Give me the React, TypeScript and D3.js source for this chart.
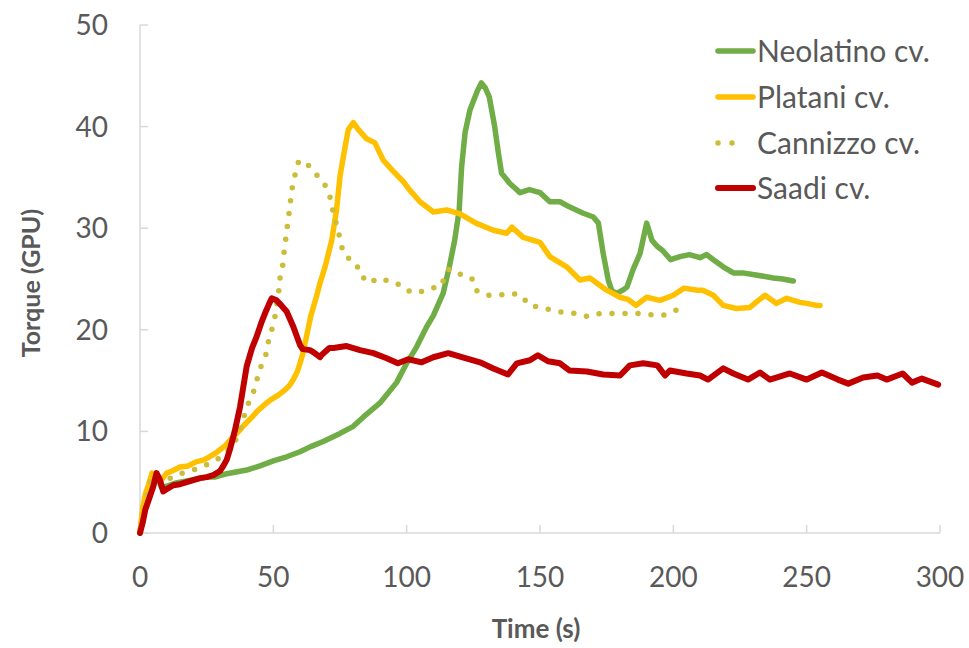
import React from "react";
import * as d3 from "d3";

const xTicks = [0, 50, 100, 150, 200, 250, 300];
const yTicks = [0, 10, 20, 30, 40, 50];

const seriesNames = ["Neolatino cv.", "Platani cv.", "Cannizzo cv.", "Saadi cv."];

const neoT = [0,1,2,4,6,8,10,13,17,21,25,28,32,36,40,45,50,55,60,64,68.7,75,80,83.7,90,96.2,100,103.7,107.5,110,113.7,116,118,119.7,120.6,121.9,123.7,125,126.5,128,129.5,131,133,134.4,135.6,138.7,142.5,146,150,153.7,157.5,161,166,170,171.9,173.7,175.6,177,179,181,182.6,185,187.5,190,192,194,196,199,202.5,206,210,212.5,215,218.7,222.5,226,231,237.5,241,245];
const neoV = [0,2,3,4.8,5.8,4.5,4.6,4.9,5.1,5.3,5.5,5.5,5.8,6.0,6.2,6.6,7.1,7.5,8.0,8.5,9.0,9.8,10.5,11.4,12.8,14.8,16.7,18.3,20.3,21.4,23.6,26.2,28.8,31.8,36,39.4,41.6,42.5,43.5,44.3,43.8,42.9,40,37.4,35.4,34.4,33.5,33.8,33.5,32.6,32.6,32.1,31.5,31.1,30.5,27.5,24.9,23.8,23.6,23.9,24.2,26,27.5,30.5,28.8,28.2,27.8,26.9,27.2,27.4,27.1,27.4,26.9,26.2,25.6,25.6,25.4,25.1,25.0,24.8];

const platT = [0,1,2,3,4.5,6,8,10,12,15,18,21,24,26,28,30,32,34,37,39,42,44,47,49,52,54,56,57.5,59,60,61,62,64,66.2,67.5,69.4,71.9,73.7,75,76.5,78.1,80,81.9,85,88.1,91.2,95,98.7,101,105,110,115,120,126,132.5,137.5,139.5,143.7,150,153.7,160,165,168.7,175,180,183,186,190,195,200,204,209,211,215,218.7,223.7,228.7,231,234.4,238.7,242.5,247.5,250,253.7,255];
const platV = [0,2.5,3.8,4.6,5.9,5.6,5.2,5.9,6.1,6.5,6.6,7.0,7.2,7.5,7.8,8.2,8.6,9.2,10.0,10.6,11.4,12.0,12.7,13.1,13.6,14.0,14.5,15.1,15.9,16.7,17.6,18.8,21.3,23.3,24.6,26.2,28.8,31.8,35.1,37.4,39.7,40.4,39.7,38.8,38.4,36.7,35.6,34.6,33.8,32.6,31.6,31.8,31.4,30.5,29.8,29.5,30.1,29.1,28.6,27.2,26.2,24.9,25.1,23.9,23.2,23.0,22.4,23.2,22.9,23.4,24.1,23.9,23.9,23.4,22.4,22.1,22.2,22.7,23.4,22.6,23.1,22.7,22.6,22.4,22.4];

const canT = [0,2,4,6,9,12,16,20,24,28,31,34,36,37.5,40,42.5,45,47,48,49.4,50.6,52,52.5,53.5,54,54.6,55.2,55.9,56.5,57.1,58.1,59.4,61,62.5,65.6,68.7,71,71.9,73,74.4,75.4,77.2,81,82.5,85.6,89.7,93.1,96.2,99.7,104,108.7,112.5,116,120.6,124.4,126,130,134.4,138.7,143,146,150.6,155,159,164,168,172.5,177.5,182.6,186.9,191,196,200.6,203];
const canV = [0,3,5.2,5.6,5.0,5.5,5.9,6.2,6.6,7.1,7.6,8.4,9.2,10.1,12.4,13.8,16.2,17.3,18.7,20,21.3,23.7,25.1,26.3,27.6,28.8,30.1,31.5,32.8,34,35.2,36.5,36.7,36.4,35.4,34.6,33.4,32.2,31,29.7,28.3,27.2,26.6,25.5,24.6,25.1,24.8,24.6,23.9,23.6,24.1,24.2,26,25.4,25.1,23.9,23.4,23.4,23.6,23.4,22.4,22.2,21.9,21.7,21.6,21.3,21.6,21.6,21.6,21.6,21.5,21.4,21.9,22.0];

const saaT = [0,1,2,3.7,5,6.2,7.5,8.7,10.5,12.5,15,17.5,20,22.5,25,27.5,30,31,32.5,33.7,35.6,37.5,40,42,43.7,45.5,47,48.5,49.4,51.2,53,55,57.5,60,61,63.7,65,67.5,68,71,72.5,77.5,82.5,87.5,92.5,96.7,100.6,105.6,110,115.6,120.7,127.5,132.5,138,141.3,146.2,149.2,153,157.5,161,167.6,173.7,180,183.7,188.7,194,196.9,198.7,205,210,213,218.7,222.5,228,232.5,236.2,243.7,250,255.7,261.7,265.6,271.2,276.5,280,286,289.5,293.2,299.3];
const saaV = [0,1,2.3,3.6,4.6,5.9,5.2,4.1,4.4,4.7,4.8,5.0,5.2,5.4,5.5,5.7,6.1,6.5,7.2,8.2,10.1,12.4,16.4,18.2,19.3,20.7,21.7,22.6,23.1,22.9,22.4,21.8,20.3,18.5,18.1,18.0,17.8,17.3,17.5,18.2,18.2,18.4,18.0,17.7,17.2,16.7,17.1,16.8,17.3,17.7,17.3,16.8,16.2,15.6,16.7,17.0,17.5,16.9,16.7,16.0,15.9,15.6,15.5,16.5,16.7,16.5,15.5,16.0,15.7,15.5,15.1,16.2,15.7,15.1,15.8,15.1,15.7,15.1,15.8,15.1,14.7,15.3,15.5,15.1,15.7,14.8,15.2,14.6];

const colors = ["#70ad47", "#ffc000", "#c9bd3a", "#c00000"];

const FONT = "Lato, 'Open Sans', sans-serif";

export default function App() {
  const x = d3.scaleLinear().domain([0, 300]).range([140, 940]);
  const y = d3.scaleLinear().domain([0, 50]).range([533, 25]);
  const line = d3
    .line<[number, number]>()
    .x((d) => x(d[0]))
    .y((d) => y(d[1]));

  const zip = (t: number[], v: number[]) => t.map((tt, i) => [tt, v[i]] as [number, number]);
  const series = [
    { d: zip(neoT, neoV), w: 5.5, dash: undefined },
    { d: zip(platT, platV), w: 5.5, dash: undefined },
    { d: zip(canT, canV), w: 5.5, dash: "0 13" },
    { d: zip(saaT, saaV), w: 6, dash: undefined },
  ];

  const axisColor = "#d9d9d9";
  const textColor = "#595959";
  const legendY = [51, 97, 143, 188];

  return (
    <svg
      width={969}
      height={648}
      style={{ position: "absolute", left: 0, top: 0, background: "#fff" }}
      fontFamily={FONT}
    >
      <line x1={x(0)} x2={x(0)} y1={y(0)} y2={y(50)} stroke={axisColor} strokeWidth={1.5} />
      <line x1={x(0)} x2={x(300)} y1={y(0)} y2={y(0)} stroke={axisColor} strokeWidth={1.5} />
      {yTicks.map((t) => (
        <g key={"y" + t}>
          <line x1={x(0)} x2={x(0) + 8} y1={y(t)} y2={y(t)} stroke={axisColor} strokeWidth={1.5} />
          <text x={108} y={y(t) + 10} textAnchor="end" fontSize={28} fill={textColor}>
            {t}
          </text>
        </g>
      ))}
      {xTicks.map((t) => (
        <g key={"x" + t}>
          <line x1={x(t)} x2={x(t)} y1={y(0)} y2={y(0) - 8} stroke={axisColor} strokeWidth={1.5} />
          <text x={x(t)} y={587} textAnchor="middle" fontSize={28} fill={textColor}>
            {t}
          </text>
        </g>
      ))}
      <text x={536} y={638} textAnchor="middle" fontSize={26} fontWeight="bold" fill={textColor}>
        Time (s)
      </text>
      <text
        transform={`translate(40,283) rotate(-90)`}
        textAnchor="middle"
        fontSize={25}
        fontWeight="bold"
        fill={textColor}
      >
        Torque (GPU)
      </text>

      {series.map((s, i) => (
        <path
          key={i}
          d={line(s.d) || ""}
          fill="none"
          stroke={colors[i]}
          strokeWidth={s.w}
          strokeLinejoin="round"
          strokeLinecap="round"
          strokeDasharray={s.dash}
        />
      ))}

      {seriesNames.map((n, i) => (
        <g key={n}>
          <line
            x1={i === 2 ? 718 : 718}
            x2={i === 2 ? 746 : 753}
            y1={legendY[i]}
            y2={legendY[i]}
            stroke={colors[i]}
            strokeWidth={i === 3 ? 6 : 5.5}
            strokeLinecap="round"
            strokeDasharray={i === 2 ? "0 14" : undefined}
          />
          <text x={757} y={legendY[i] + 11} fontSize={30} fill={textColor}>
            {n}
          </text>
        </g>
      ))}
    </svg>
  );
}
